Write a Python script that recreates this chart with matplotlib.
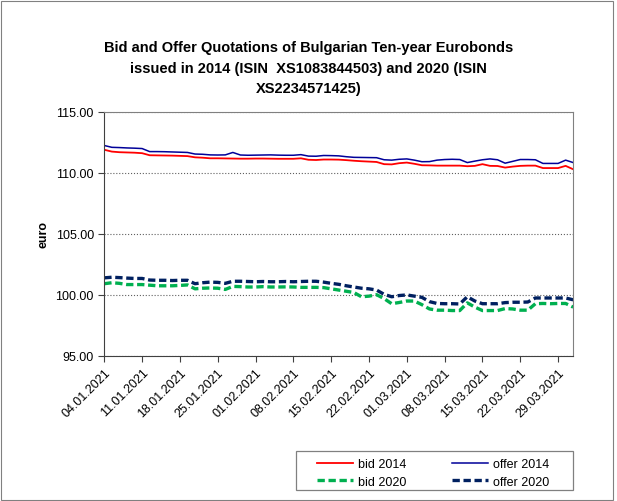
import matplotlib
matplotlib.use("Agg")
import matplotlib.pyplot as plt
from matplotlib.patches import Rectangle
import numpy as np
import pandas as pd

plt.rcParams['font.family'] = ['Liberation Sans', 'DejaVu Sans']

# business days 04.01.2021 - 31.03.2021
dates = pd.bdate_range('2021-01-04', '2021-03-31')
date_labels = [d.strftime('%d.%m.%Y') for d in dates]

bid_2014 = [111.90, 111.75, 111.70, 111.68, 111.66, 111.62, 111.45, 111.44, 111.43, 111.42,
            111.40, 111.38, 111.28, 111.25, 111.20, 111.20, 111.19, 111.18, 111.17, 111.17,
            111.18, 111.18, 111.17, 111.16, 111.16, 111.16, 111.20, 111.08, 111.06, 111.10,
            111.10, 111.09, 111.05, 111.00, 110.96, 110.93, 110.90, 110.72, 110.70, 110.80,
            110.85, 110.75, 110.63, 110.62, 110.60, 110.60, 110.60, 110.60, 110.55, 110.58,
            110.72, 110.58, 110.57, 110.44, 110.52, 110.58, 110.60, 110.60, 110.40, 110.40,
            110.40, 110.58, 110.30]
offer_2014 = [112.25, 112.10, 112.08, 112.05, 112.03, 112.00, 111.75, 111.75, 111.74, 111.72,
              111.70, 111.68, 111.55, 111.53, 111.48, 111.47, 111.48, 111.68, 111.47, 111.45,
              111.46, 111.47, 111.48, 111.46, 111.45, 111.45, 111.50, 111.38, 111.37, 111.43,
              111.42, 111.40, 111.33, 111.28, 111.27, 111.26, 111.25, 111.08, 111.05, 111.12,
              111.15, 111.05, 110.92, 110.93, 111.05, 111.10, 111.12, 111.10, 110.85, 110.97,
              111.08, 111.15, 111.08, 110.80, 110.95, 111.10, 111.10, 111.08, 110.78, 110.78,
              110.78, 111.05, 110.85]
bid_2020 = [100.92, 101.00, 100.95, 100.85, 100.85, 100.85, 100.80, 100.75, 100.75, 100.75,
            100.78, 100.82, 100.50, 100.55, 100.57, 100.55, 100.45, 100.70, 100.68, 100.65,
            100.65, 100.68, 100.65, 100.65, 100.66, 100.65, 100.62, 100.62, 100.62, 100.60,
            100.50, 100.40, 100.30, 100.20, 99.85, 99.90, 100.02, 99.70, 99.28, 99.38,
            99.50, 99.50, 99.20, 98.85, 98.75, 98.75, 98.72, 98.72, 99.35, 99.00,
            98.72, 98.72, 98.72, 98.88, 98.85, 98.75, 98.75, 99.28, 99.30, 99.28,
            99.30, 99.30, 99.00]
offer_2020 = [101.40, 101.45, 101.42, 101.38, 101.35, 101.35, 101.22, 101.20, 101.20, 101.18,
              101.20, 101.20, 100.92, 101.00, 101.05, 101.03, 100.95, 101.12, 101.12, 101.10,
              101.08, 101.10, 101.08, 101.08, 101.10, 101.08, 101.10, 101.12, 101.12, 101.05,
              100.95, 100.87, 100.75, 100.65, 100.55, 100.50, 100.40, 100.05, 99.85, 99.95,
              100.00, 99.90, 99.80, 99.45, 99.30, 99.28, 99.28, 99.26, 99.85, 99.50,
              99.28, 99.28, 99.28, 99.37, 99.40, 99.40, 99.42, 99.75, 99.75, 99.75,
              99.75, 99.75, 99.60]

x = np.arange(len(dates))

fig = plt.figure(figsize=(6.17, 5.02), dpi=100)
ax = fig.add_axes([0.169, 0.289, 0.760, 0.486])

ax.plot(x, bid_2014, color='#ff0000', lw=1.3, label='bid 2014')
ax.plot(x, bid_2020, color='#00b050', lw=2.4, dashes=(2.2, 1.1), label='bid 2020')
ax.plot(x, offer_2014, color='#000099', lw=1.1, label='offer 2014')
ax.plot(x, offer_2020, color='#002060', lw=2.4, dashes=(2.2, 1.1), label='offer 2020')

ax.set_xlim(0, len(dates) - 1)
ax.set_ylim(95, 115)
ax.set_yticks([95, 100, 105, 110, 115])
ax.set_yticklabels(['%.2f' % v for v in [95, 100, 105, 110, 115]], fontsize=9)
ax.set_xticks(x[::5])
ax.set_xticklabels(date_labels[::5], rotation=45, ha='right', rotation_mode='anchor', fontsize=9)
ax.tick_params(direction='out', length=4, color='#404040')
ax.yaxis.grid(True, linestyle=':', color='#606060', lw=0.8)

for side in ['top', 'right']:
    ax.spines[side].set_color('#808080')
for side in ['left', 'bottom']:
    ax.spines[side].set_color('#404040')

ax.set_ylabel('euro', fontsize=9, fontweight='bold', labelpad=4)

fig.suptitle('Bid and Offer Quotations of Bulgarian Ten-year Eurobonds\n'
             'issued in 2014 (ISIN  XS1083844503) and 2020 (ISIN\nXS2234571425)',
             x=0.5, y=0.918, fontsize=10.5, fontweight='bold', linespacing=1.6)

# legend without its own frame, box drawn separately
fig.legend(loc='upper left', bbox_to_anchor=(317 / 617, 1 - 459 / 502),
           bbox_transform=fig.transFigure, ncol=2, fontsize=9, frameon=False,
           handlelength=2.9, handletextpad=0.4, columnspacing=3.6,
           borderpad=0, borderaxespad=0, labelspacing=0.45)
fig.patches.append(Rectangle((296 / 617, 1 - 491 / 502), 277 / 617, 39 / 502,
                             transform=fig.transFigure, fill=False,
                             edgecolor='#808080', lw=0.9))

fig.patches.append(Rectangle((0.002, 0.002), 0.992, 0.994, transform=fig.transFigure,
                             fill=False, edgecolor='#808080', lw=0.8))

fig.savefig('out.png', dpi=100)
